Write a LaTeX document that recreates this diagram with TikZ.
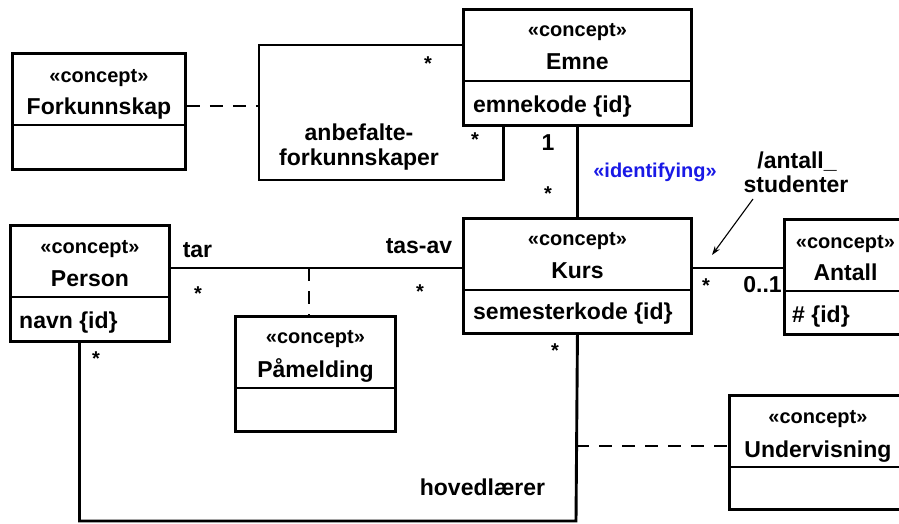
\documentclass[tikz,border=0pt]{standalone}
\usepackage{fontspec}
\setmainfont{Liberation Sans}
\usetikzlibrary{arrows.meta}
\definecolor{stereoblue}{RGB}{25,25,230}
\tikzset{
  umlbox/.style={draw, line width=2.9pt, rectangle, inner sep=0pt, anchor=north west},
  divider/.style={line width=1.2pt},
  assoc/.style={line width=2.9pt},
  dassoc/.style={line width=2.9pt, dash pattern=on 13pt off 10pt},
  stereo/.style={anchor=base, inner sep=0pt, font=\fontsize{20}{22}\selectfont\bfseries},
  cname/.style={anchor=base, inner sep=0pt, font=\fontsize{23}{25}\selectfont\bfseries},
  attr/.style={anchor=base west, inner sep=0pt, font=\fontsize{23}{25}\selectfont\bfseries},
  lbl/.style={anchor=base, inner sep=0pt, font=\fontsize{23}{25}\selectfont\bfseries},
  mult/.style={anchor=center, inner sep=0pt, font=\fontsize{20}{22}\selectfont\bfseries},
  note/.style={line width=1.1pt, -{Stealth[length=9pt,width=6pt]}},
}
\begin{document}
\begin{tikzpicture}[x=1pt,y=-1pt]
\clip (0,0) rectangle (899,523);
\fill[white] (0,0) rectangle (899,523);

% ---------- boxes ----------
\node[umlbox, minimum width=173pt, minimum height=116pt] (fork) at (11,52) {};
\node[umlbox, minimum width=228pt, minimum height=116pt] (emne) at (462,8) {};
\node[umlbox, minimum width=228pt, minimum height=115pt] (kurs) at (462,217) {};
\node[umlbox, minimum width=159pt, minimum height=116pt] (person) at (9,224) {};
\node[umlbox, minimum width=160pt, minimum height=115pt] (pamel) at (234,315) {};
\node[umlbox, minimum width=122pt, minimum height=115pt] (antall) at (783,218) {};
\node[umlbox, minimum width=177pt, minimum height=114pt] (underv) at (728,394) {};

% dividers
\foreach \b in {fork,emne,kurs,person,pamel,antall,underv}{
  \draw[divider] ([yshift=-73pt]\b.north west) -- ([yshift=-73pt]\b.north east);
}

% texts
\node[stereo] (fork-st) at ([yshift=-30pt]fork.north) {«concept»};
\node[cname]  (fork-nm) at ([yshift=-62pt]fork.north) {Forkunnskap};

\node[stereo] (emne-st) at ([yshift=-28pt]emne.north) {«concept»};
\node[cname]  (emne-nm) at ([yshift=-61pt]emne.north) {Emne};
\node[attr]   (emne-at) at ([xshift=11pt,yshift=-104pt]emne.north west) {emnekode \{id\}};

\node[stereo] (kurs-st) at ([yshift=-28pt]kurs.north) {«concept»};
\node[cname]  (kurs-nm) at ([yshift=-61pt]kurs.north) {Kurs};
\node[attr]   (kurs-at) at ([xshift=11pt,yshift=-102pt]kurs.north west) {semesterkode \{id\}};

\node[stereo] (person-st) at ([yshift=-29pt]person.north) {«concept»};
\node[cname]  (person-nm) at ([yshift=-62pt]person.north) {Person};
\node[attr]   (person-at) at ([xshift=10pt,yshift=-104pt]person.north west) {navn \{id\}};

\node[stereo] (pamel-st) at ([yshift=-28pt]pamel.north) {«concept»};
\node[cname]  (pamel-nm) at ([yshift=-62pt]pamel.north) {Påmelding};

\node[stereo] (antall-st) at ([yshift=-30pt]antall.north) {«concept»};
\node[cname]  (antall-nm) at ([yshift=-62pt]antall.north) {Antall};
\node[attr]   (antall-at) at ([xshift=9pt,yshift=-104pt]antall.north west) {\# \{id\}};

\node[stereo] (underv-st) at ([yshift=-29pt]underv.north) {«concept»};
\node[cname]  (underv-nm) at ([yshift=-63pt]underv.north) {Undervisning};

% ---------- connectors ----------
% reflexive association on Emne
\coordinate (rfa) at (259,180);
\coordinate (rfm) at (259,106);
\draw[assoc] ([yshift=-37pt]emne.north west) -| (rfa) -| ([xshift=-74pt]emne.south);
\draw[dassoc] ([yshift=-54pt]fork.north east) -- (rfm);

% Emne -- Kurs
\draw[assoc] (emne.south) -- (kurs.north);

% Person -- Kurs
\coordinate (pk) at (309,268);
\draw[assoc] ([yshift=-44pt]person.north east) -- ([yshift=-51pt]kurs.north west);
\draw[dassoc] (pk) -- (pk |- pamel.north);

% Kurs -- Antall
\draw[assoc] ([yshift=-51pt]kurs.north east) -- ([yshift=-50pt]antall.north west);

% hovedlaerer
\coordinate (hl) at (576,521);
\coordinate (hm) at (576,446);
\draw[assoc] ([xshift=-10.5pt]person.south) |- (hl) -- (kurs.south);
\draw[dassoc] (hm) -- (hm -| underv.west);

% note arrow
\coordinate (ars) at (753,199);
\coordinate (are) at (712,255);
\draw[note] (ars) -- (are);

% ---------- labels ----------
\node[lbl] (l-anb1) at (359,140) {anbefalte-};
\node[lbl] (l-anb2) at (359,165) {forkunnskaper};
\node[lbl] (l-ant1) at (797,168) {/antall\_};
\node[lbl] (l-ant2) at (796,192) {studenter};
\node[lbl, text=stereoblue, font=\fontsize{20}{22}\selectfont\bfseries] (l-id) at (655,177) {«identifying»};
\node[lbl] (l-one) at (548,150) {1};
\node[lbl] (l-tar) at (197.5,257) {tar};
\node[lbl] (l-tas) at (419,253) {tas-av};
\node[lbl] (l-hov) at (482.5,495) {hovedlærer};
\node[lbl] (l-01) at (762.5,292) {0..1};

\node[mult] (m1) at (428,64) {*};
\node[mult] (m2) at (475,140) {*};
\node[mult] (m3) at (548,194) {*};
\node[mult] (m4) at (198,294) {*};
\node[mult] (m5) at (420,292) {*};
\node[mult] (m6) at (96,359) {*};
\node[mult] (m7) at (555,351) {*};
\node[mult] (m8) at (706,286) {*};
\end{tikzpicture}
\end{document}
